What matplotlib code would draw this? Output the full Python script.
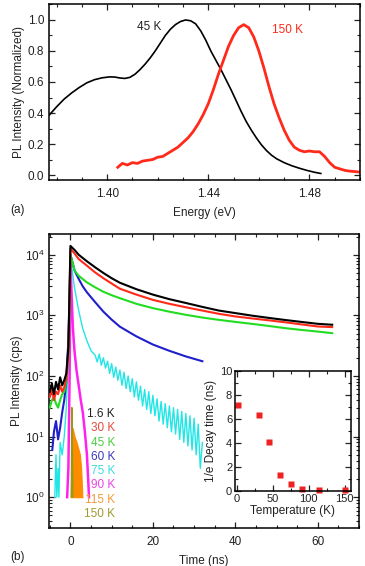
import numpy as np
import matplotlib
matplotlib.use("Agg")
import matplotlib.pyplot as plt
from matplotlib.ticker import MultipleLocator, LogLocator, NullFormatter, FormatStrFormatter

plt.rcParams["font.family"] = ["Liberation Sans", "DejaVu Sans"]
plt.rcParams["font.size"] = 8.5
plt.rcParams["text.color"] = "#222222"
plt.rcParams["axes.labelcolor"] = "#222222"
plt.rcParams["xtick.color"] = "#222222"
plt.rcParams["ytick.color"] = "#222222"
plt.rcParams["xtick.direction"] = "in"
plt.rcParams["ytick.direction"] = "in"
plt.rcParams["xtick.top"] = True
plt.rcParams["ytick.right"] = True
plt.rcParams["axes.linewidth"] = 1.1

# ---- panel (a): normalized PL spectra ----
e_45 = [1.377, 1.380, 1.383, 1.386, 1.389, 1.392, 1.395, 1.398, 1.401, 1.403, 1.405,
        1.407, 1.409, 1.411, 1.413, 1.415, 1.417, 1.419, 1.421, 1.423, 1.425, 1.427,
        1.429, 1.431, 1.433, 1.435, 1.437, 1.439, 1.441, 1.443, 1.445, 1.447, 1.449,
        1.451, 1.453, 1.455, 1.457, 1.459, 1.461, 1.463, 1.465, 1.467, 1.470, 1.473,
        1.476, 1.479, 1.482, 1.4845]
pl_45 = [0.385, 0.44, 0.49, 0.53, 0.565, 0.595, 0.615, 0.627, 0.633, 0.632, 0.626,
         0.623, 0.630, 0.650, 0.680, 0.715, 0.755, 0.80, 0.85, 0.90, 0.94, 0.97,
         0.99, 1.0, 0.995, 0.975, 0.93, 0.87, 0.80, 0.74, 0.68, 0.615, 0.55,
         0.48, 0.41, 0.345, 0.29, 0.24, 0.195, 0.158, 0.128, 0.105, 0.08, 0.06,
         0.044, 0.03, 0.018, 0.01]

e_150 = [1.4042, 1.406, 1.408, 1.410, 1.412, 1.414, 1.416, 1.418, 1.420, 1.422, 1.424,
         1.426, 1.428, 1.430, 1.432, 1.434, 1.436, 1.438, 1.440, 1.442, 1.444, 1.446,
         1.448, 1.450, 1.452, 1.454, 1.456, 1.458, 1.460, 1.462, 1.464, 1.466, 1.468,
         1.470, 1.472, 1.474, 1.476, 1.478, 1.480, 1.482, 1.484, 1.486, 1.488, 1.490,
         1.492, 1.494, 1.496, 1.4995]
pl_150 = [0.05, 0.075, 0.065, 0.08, 0.075, 0.09, 0.095, 0.10, 0.115, 0.12, 0.14,
          0.16, 0.18, 0.21, 0.24, 0.28, 0.33, 0.39, 0.46, 0.55, 0.65, 0.74,
          0.83, 0.90, 0.95, 0.97, 0.95, 0.89, 0.80, 0.69, 0.57, 0.46, 0.37,
          0.29, 0.225, 0.18, 0.16, 0.15, 0.155, 0.15, 0.15, 0.12, 0.08, 0.05,
          0.04, 0.03, 0.025, 0.02]

# ---- panel (b): decay traces ----
t_k1 = [-5, -4.5, -4, -3.5, -3, -2.5, -2, -1.5, -1, -0.5, -0.2, 0, 1, 2, 4, 6, 8, 10, 12,
        16, 20, 24, 28, 32, 36, 40, 44, 48, 52, 56, 60, 63.5]
i_1p6 = [55, 75, 50, 80, 60, 95, 70, 85, 110, 300, 3000, 14000, 12000, 10000, 7800, 6200,
         5000, 4100, 3450, 2700, 2200, 1850, 1600, 1380, 1200, 1090, 990, 910, 840, 780, 725, 700]
i_30 = [45, 60, 40, 55, 50, 70, 55, 65, 90, 250, 2500, 12500, 10500, 8500, 6600, 5100,
        4100, 3350, 2750, 2200, 1800, 1550, 1360, 1200, 1060, 960, 890, 830, 770, 710, 655, 640]
i_45 = [30, 40, 45, 35, 30, 40, 50, 55, 80, 200, 1500, 10000, 5500, 4500, 3500, 2900,
        2450, 2150, 1920, 1550, 1315, 1150, 1020, 920, 843, 780, 724, 670, 616, 575, 540, 508]

t_60 = [-4.4, -4, -3.5, -3, -2.5, -2, -1.5, -1, -0.5, -0.2, 0, 0.5, 1, 2, 3, 4, 6, 8, 10,
        12, 16, 20, 24, 28, 32]
i_60 = [6, 12, 18, 9, 14, 25, 40, 80, 400, 2000, 10000, 7500, 5500, 4000, 3000, 2400,
        1650, 1150, 850, 650, 450, 330, 260, 210, 175]

t_75 = [-3.8, -3.5, -3.3, -3, -2.8, -2.5, -2, -1.5, -1, -0.5, -0.2, 0, 0.5, 1, 2, 3, 4, 5,
        6, 6.5, 7, 7.5, 8, 8.5, 9, 9.5, 10, 10.5, 11, 11.5, 12, 12.5, 13, 13.5, 14, 14.5,
        15, 15.5, 16, 16.5, 17, 17.5, 18, 18.5, 19, 19.5, 20, 20.5, 21, 21.5, 22, 22.5,
        23, 23.5, 24, 24.5, 25, 25.5, 26, 26.5, 27, 27.5, 28, 28.5, 29, 29.5, 30, 30.5,
        31, 31.5, 32]
i_75 = [1, 5, 1, 3, 1, 8, 5, 10, 30, 200, 2000, 9000, 5000, 2800, 1200, 600, 380, 260,
        220, 170, 230, 150, 200, 135, 175, 110, 160, 95, 140, 85, 125, 70, 115, 62, 100, 55,
        90, 45, 80, 40, 68, 32, 60, 28, 55, 24, 48, 22, 42, 18, 38, 16,
        35, 14, 32, 12, 30, 11, 28, 9, 26, 8, 24, 7, 22, 6, 20, 5,
        16, 3, 8]

t_90 = [-0.8, -0.5, -0.2, 0, 0.3, 0.6, 1, 1.5, 2, 2.5, 3, 3.5, 4, 4.3, 4.5]
i_90 = [1, 3, 100, 8000, 2000, 600, 250, 120, 70, 40, 25, 12, 5, 2, 1]

t_115 = [0.1, 0.3, 0.5, 1.0, 1.5, 2.0, 2.3, 2.6, 2.9]
i_115 = [1, 10, 14, 10, 8, 6, 5, 3, 1]

t_150 = [0.2, 0.35, 0.5, 0.6]
i_150 = [1, 30, 5, 1]

labels_b = ["1.6 K", "30 K", "45 K", "60 K", "75 K", "90 K", "115 K", "150 K"]
line_colors = ["#000000", "#ff2a1a", "#22dd22", "#1f1fcc", "#22e6e6", "#ff22ee", "#ff8c00", "#9a9a10"]
text_colors = ["#222222", "#e64a3c", "#4ccc44", "#3a3abb", "#3fdcdc", "#ec44e6", "#f29a3a", "#a09a30"]

# ---- inset: 1/e decay time ----
temp_k = [1.6, 30, 45, 60, 75, 90, 115, 150]
tau_ns = [7.2, 6.3, 4.1, 1.3, 0.6, 0.2, 0.1, 0.05]

fig = plt.figure(figsize=(3.65, 5.66), dpi=100)

ax1 = fig.add_axes([49/365, 1-180/566, 311/365, 176/566])
ax1.plot(e_45, pl_45, color="black", lw=1.2)
ax1.plot(e_150, pl_150, color="#ff2a1a", lw=2.0)
ax1.set_xlim(1.377, 1.50)
ax1.set_ylim(-0.032, 1.103)
ax1.xaxis.set_major_locator(MultipleLocator(0.04))
ax1.xaxis.set_minor_locator(MultipleLocator(0.01))
ax1.yaxis.set_major_locator(MultipleLocator(0.2))
ax1.yaxis.set_minor_locator(MultipleLocator(0.1))
ax1.xaxis.set_major_formatter(FormatStrFormatter("%.2f"))
ax1.yaxis.set_major_formatter(FormatStrFormatter("%.1f"))
ax1.set_xlabel("Energy (eV)", labelpad=5)
ax1.set_ylabel("PL Intensity (Normalized)", labelpad=2)
ax1.text(1.412, 0.957, "45 K", color="#222222", va="center")
ax1.text(1.465, 0.935, "150 K", color="#ff2a1a", va="center")

ax2 = fig.add_axes([49/365, 1-528/566, 310/365, 294/566])
ax2.set_yscale("log")
ax2.plot(t_k1, i_1p6, color=line_colors[0], lw=1.5, zorder=6)
ax2.plot(t_k1, i_30, color=line_colors[1], lw=1.5, zorder=5)
ax2.plot(t_k1, i_45, color=line_colors[2], lw=1.5, zorder=4)
ax2.plot(t_60, i_60, color=line_colors[3], lw=1.5, zorder=3)
ax2.plot(t_75, i_75, color=line_colors[4], lw=1.0, zorder=2)
ax2.plot(t_90, i_90, color=line_colors[5], lw=1.8, zorder=2)
ax2.fill_between(t_115, 1, i_115, color=line_colors[6], lw=0.8, zorder=2)
ax2.plot(t_150, i_150, color=line_colors[7], lw=1.0, zorder=2)
ax2.set_xlim(-5.2, 70)
ax2.set_ylim(0.31, 2.2e4)
ax2.xaxis.set_major_locator(MultipleLocator(20))
ax2.xaxis.set_minor_locator(MultipleLocator(5))
ax2.yaxis.set_major_locator(LogLocator(base=10, numticks=10))
ax2.yaxis.set_minor_locator(LogLocator(base=10, subs=np.arange(2, 10), numticks=10))
ax2.yaxis.set_minor_formatter(NullFormatter())
ax2.set_xlabel("Time (ns)", labelpad=5)
ax2.set_ylabel("PL Intensity (cps)", labelpad=1)
for k, lab in enumerate(labels_b):
    ax2.text(0.213, 0.388 - k*0.0486, lab, color=text_colors[k], ha="right", va="center",
             transform=ax2.transAxes)

ax3 = fig.add_axes([235/365, 1-491/566, 116/365, 120/566])
ax3.plot(temp_k, tau_ns, "s", color="#ee2222", ms=3.8, mec="none", clip_on=False)
ax3.set_xlim(-3, 159)
ax3.set_ylim(0, 10)
ax3.xaxis.set_major_locator(MultipleLocator(50))
ax3.xaxis.set_minor_locator(MultipleLocator(25))
ax3.yaxis.set_major_locator(MultipleLocator(2))
ax3.yaxis.set_minor_locator(MultipleLocator(1))
ax3.set_xlabel("Temperature (K)", labelpad=1)
ax3.set_ylabel("1/e Decay time (ns)", labelpad=2)

for ax in (ax1, ax2, ax3):
    ax.tick_params(which="major", length=4, width=0.9)
    ax.tick_params(which="minor", length=2.5, width=0.8)
ax1.tick_params(axis="x", which="major", pad=6)
ax2.tick_params(axis="x", which="major", pad=6)
ax3.tick_params(labelsize=8, pad=2)

fig.text(10/365, 1-210/566, "(a)", va="center")
fig.text(10/365, 1-557/566, "(b)", va="center")

fig.savefig("out.png", dpi=100)
